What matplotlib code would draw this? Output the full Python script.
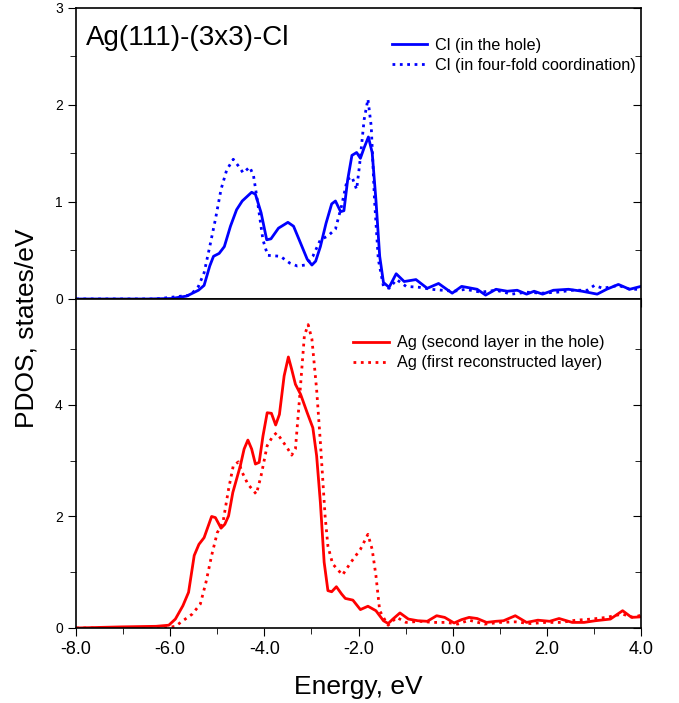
import numpy as np
import matplotlib
matplotlib.use("Agg")
import matplotlib.pyplot as plt
from matplotlib.ticker import MultipleLocator, FormatStrFormatter

plt.rcParams['font.family'] = ['Liberation Sans', 'DejaVu Sans']

# Cl PDOS (top panel)
e_cl_hole = [-8.0, -6.5, -5.97, -5.65, -5.4, -5.28, -5.16, -5.08, -4.96, -4.85, -4.72, -4.59, -4.47, -4.27,
             -4.19, -4.07, -3.95, -3.86, -3.70, -3.50, -3.38, -3.26, -3.09, -2.99, -2.91, -2.81, -2.69,
             -2.57, -2.49, -2.38, -2.31, -2.23, -2.14, -2.04, -1.96, -1.88, -1.79, -1.71, -1.63, -1.55,
             -1.47, -1.35, -1.20, -1.03, -0.78, -0.54, -0.30, -0.01, 0.19, 0.52, 0.70, 0.92, 1.16, 1.37,
             1.57, 1.73, 1.91, 2.14, 2.46, 2.75, 3.07, 3.27, 3.52, 3.76, 4.0]
cl_hole = [0.0, 0.0, 0.005, 0.03, 0.09, 0.14, 0.34, 0.44, 0.47, 0.54, 0.75, 0.92, 1.01, 1.10,
           1.08, 0.89, 0.61, 0.62, 0.73, 0.79, 0.75, 0.61, 0.41, 0.35, 0.39, 0.54, 0.78,
           0.98, 1.01, 0.90, 0.91, 1.23, 1.48, 1.51, 1.45, 1.56, 1.67, 1.51, 1.02, 0.44,
           0.17, 0.12, 0.26, 0.18, 0.20, 0.11, 0.16, 0.06, 0.13, 0.10, 0.04, 0.10, 0.08, 0.09,
           0.05, 0.08, 0.05, 0.09, 0.10, 0.08, 0.05, 0.10, 0.15, 0.10, 0.13]

e_cl_four = [-8.0, -6.3, -5.57, -5.4, -5.28, -5.16, -5.04, -4.92, -4.80, -4.66, -4.55, -4.45, -4.31, -4.23,
             -4.15, -4.03, -3.93, -3.66, -3.46, -3.30, -3.13, -2.97, -2.81, -2.65, -2.49, -2.36, -2.24,
             -2.14, -2.04, -1.98, -1.88, -1.80, -1.73, -1.66, -1.58, -1.47, -1.35, -1.19, -0.99, -0.70,
             -0.46, -0.22, 0.03, 0.27, 0.60, 0.92, 1.25, 1.57, 1.89, 2.22, 2.54, 2.86, 3.01, 3.19,
             3.52, 3.76, 4.0]
cl_four = [0.0, 0.0, 0.04, 0.13, 0.27, 0.54, 0.82, 1.13, 1.33, 1.44, 1.37, 1.30, 1.36, 1.27,
           1.02, 0.61, 0.45, 0.44, 0.37, 0.34, 0.35, 0.44, 0.61, 0.65, 0.72, 0.96, 1.23,
           1.26, 1.13, 1.37, 1.85, 2.06, 1.78, 1.02, 0.41, 0.13, 0.11, 0.20, 0.13, 0.12,
           0.10, 0.09, 0.08, 0.10, 0.07, 0.09, 0.05, 0.07, 0.06, 0.07, 0.09, 0.09, 0.14, 0.11,
           0.14, 0.10, 0.10]

# Ag PDOS (bottom panel)
e_ag_hole = [-8.0, -7.03, -6.30, -6.03, -5.89, -5.73, -5.61, -5.49, -5.39, -5.28, -5.12, -5.04, -4.92,
             -4.84, -4.76, -4.67, -4.51, -4.43, -4.35, -4.27, -4.19, -4.11, -4.03, -3.94, -3.85, -3.76,
             -3.68, -3.58, -3.49, -3.42, -3.34, -3.23, -3.09, -2.97, -2.89, -2.81, -2.73, -2.65, -2.57,
             -2.47, -2.36, -2.28, -2.12, -1.96, -1.80, -1.63, -1.47, -1.37, -1.27, -1.12, -0.94, -0.74,
             -0.54, -0.34, -0.17, 0.03, 0.19, 0.35, 0.52, 0.72, 0.92, 1.08, 1.33, 1.57, 1.81, 2.06,
             2.26, 2.54, 2.79, 3.03, 3.35, 3.61, 3.80, 4.0]
ag_hole = [0.0, 0.02, 0.03, 0.05, 0.16, 0.40, 0.64, 1.30, 1.50, 1.62, 2.00, 1.98, 1.79,
           1.86, 2.01, 2.43, 2.91, 3.21, 3.37, 3.21, 2.94, 2.97, 3.44, 3.86, 3.85, 3.64,
           3.83, 4.52, 4.86, 4.64, 4.37, 4.19, 3.86, 3.59, 3.09, 2.25, 1.18, 0.67, 0.65,
           0.74, 0.61, 0.53, 0.50, 0.33, 0.39, 0.31, 0.13, 0.08, 0.16, 0.27, 0.16, 0.13,
           0.12, 0.22, 0.19, 0.09, 0.15, 0.19, 0.17, 0.10, 0.12, 0.13, 0.22, 0.10, 0.14, 0.12,
           0.17, 0.10, 0.10, 0.13, 0.16, 0.31, 0.19, 0.20]

e_ag_first = [-8.0, -6.1, -5.89, -5.73, -5.53, -5.36, -5.24, -5.12, -5.00, -4.88, -4.76, -4.66, -4.55,
              -4.47, -4.35, -4.17, -4.07, -3.94, -3.82, -3.74, -3.62, -3.50, -3.42, -3.34, -3.26, -3.15,
              -3.07, -2.99, -2.89, -2.81, -2.71, -2.65, -2.55, -2.34, -2.16, -1.96, -1.80, -1.71, -1.63,
              -1.55, -1.43, -1.37, -1.19, -0.99, -0.70, -0.42, -0.13, 0.11, 0.35, 0.68, 1.00, 1.33,
              1.65, 1.98, 2.30, 2.62, 2.95, 3.27, 3.60, 3.84, 4.0]
ag_first = [0.0, 0.0, 0.03, 0.13, 0.25, 0.43, 0.82, 1.30, 1.71, 1.89, 2.49, 2.91, 2.98,
            2.79, 2.58, 2.40, 2.73, 3.27, 3.44, 3.50, 3.36, 3.21, 3.10, 3.21, 4.04, 5.24,
            5.44, 5.18, 4.28, 3.33, 2.01, 1.47, 1.15, 0.95, 1.18, 1.41, 1.68, 1.41, 0.94,
            0.31, 0.13, 0.05, 0.19, 0.10, 0.12, 0.10, 0.10, 0.07, 0.14, 0.07, 0.10, 0.11,
            0.08, 0.10, 0.10, 0.14, 0.16, 0.19, 0.25, 0.19, 0.23]

fig = plt.figure(figsize=(6.79, 7.03), dpi=100)
ax1 = fig.add_axes([0.112, 0.5747, 0.832, 0.414])
ax2 = fig.add_axes([0.112, 0.1067, 0.832, 0.468])

ax1.plot(e_cl_hole, cl_hole, color='blue', lw=2, label='Cl (in the hole)')
ax1.plot(e_cl_four, cl_four, color='blue', lw=2, ls=':', label='Cl (in four-fold coordination)')
ax2.plot(e_ag_hole, ag_hole, color='red', lw=2, label='Ag (second layer in the hole)')
ax2.plot(e_ag_first, ag_first, color='red', lw=2, ls=':', label='Ag (first reconstructed layer)')

for ax in (ax1, ax2):
    ax.set_xlim(-8, 4)
    ax.xaxis.set_major_locator(MultipleLocator(2))
    ax.xaxis.set_minor_locator(MultipleLocator(1))
    ax.xaxis.set_major_formatter(FormatStrFormatter('%.1f'))
    ax.tick_params(axis='y', which='both', left=True, right=True, labelsize=10)
    ax.tick_params(axis='y', which='major', length=6)
    ax.tick_params(axis='y', which='minor', length=4)
    ax.tick_params(axis='x', which='major', length=6, labelsize=13)
    ax.tick_params(axis='x', which='minor', length=4)
    for s in ax.spines.values():
        s.set_linewidth(1.2)

ax1.set_ylim(0, 3)
ax1.yaxis.set_major_locator(MultipleLocator(1))
ax1.yaxis.set_minor_locator(MultipleLocator(0.5))
ax1.tick_params(axis='x', which='both', labelbottom=False)

ax2.set_ylim(0, 5.9)
ax2.yaxis.set_major_locator(MultipleLocator(2))
ax2.yaxis.set_minor_locator(MultipleLocator(1))

# right-hand ticks point inwards, left ones outwards
for ax in (ax1, ax2):
    ax.yaxis.set_tick_params(which='both', direction='out')
    for t in ax.yaxis.get_major_ticks() + ax.yaxis.get_minor_ticks():
        t.tick2line.set_marker(matplotlib.lines.TICKLEFT)

ax1.text(0.018, 0.94, 'Ag(111)-(3x3)-Cl', transform=ax1.transAxes, fontsize=20,
         ha='left', va='top')

ax1.legend(loc='upper right', bbox_to_anchor=(1.003, 0.919), frameon=False, fontsize=11.7,
           handlelength=2.2, handletextpad=0.5, labelspacing=0.3, borderaxespad=0)
ax2.legend(loc='upper right', bbox_to_anchor=(0.947, 0.909), frameon=False, fontsize=11.7,
           handlelength=2.2, handletextpad=0.5, labelspacing=0.3, borderaxespad=0)

ax2.set_xlabel('Energy, eV', fontsize=19, labelpad=12)
fig.text(0.039, 0.533, 'PDOS, states/eV', rotation=90, fontsize=19, ha='center', va='center')

fig.savefig('out.png', dpi=100)
